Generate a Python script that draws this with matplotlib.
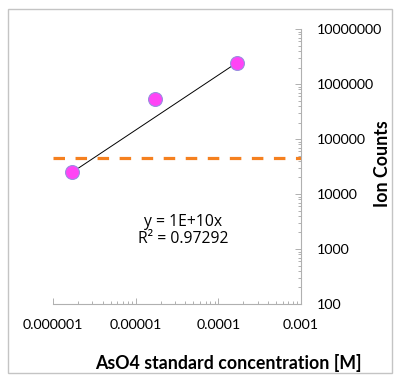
import numpy as np
import matplotlib
import matplotlib.pyplot as plt
from matplotlib import ticker
from matplotlib.patches import Rectangle

matplotlib.rcParams['font.family'] = ['Lato', 'DejaVu Sans']

# data
conc = [1.7e-6, 1.7e-5, 1.7e-4]          # AsO4 standard concentration [M]
counts = [25500, 545000, 2450000]        # ion counts
threshold = 45000                        # dashed orange line
x_ticks = [1e-6, 1e-5, 1e-4, 1e-3]
x_labels = ['0.000001', '0.00001', '0.0001', '0.001']
y_ticks = [1e2, 1e3, 1e4, 1e5, 1e6, 1e7]
y_labels = ['100', '1000', '10000', '100000', '1000000', '10000000']
eq_text = 'y = 1E+10x'
r2_text = 'R² = 0.97292'

fig = plt.figure(figsize=(4, 3.83), dpi=100)
ax = fig.add_axes([0.1325, 0.2063, 0.62, 0.7177])

# linear fit through the origin (Excel trendline)
x = np.array(conc)
y = np.array(counts)
k = (x * y).sum() / (x * x).sum()
ax.plot([x[0], x[-1]], [k * x[0], k * x[-1]], color='black', lw=0.7, zorder=3)

ax.axhline(threshold, color='#F5801F', lw=2.3, dashes=(3.6, 3.3), zorder=2)

ax.plot(conc, counts, ls='none', marker='o', markersize=10,
        markerfacecolor='#FF44F5', markeredgecolor='#9A8FE0', markeredgewidth=0.8, zorder=4)

ax.set_xscale('log')
ax.set_yscale('log')
ax.set_xlim(1e-6, 1e-3)
ax.set_ylim(1e2, 1e7)

ax.xaxis.set_major_locator(ticker.FixedLocator(x_ticks))
ax.xaxis.set_major_formatter(ticker.FixedFormatter(x_labels))
ax.yaxis.set_major_locator(ticker.FixedLocator(y_ticks))
ax.yaxis.set_major_formatter(ticker.FixedFormatter(y_labels))
ax.xaxis.set_minor_locator(ticker.LogLocator(base=10, subs=np.arange(2, 10)))
ax.yaxis.set_minor_locator(ticker.LogLocator(base=10, subs=np.arange(2, 10)))
ax.xaxis.set_minor_formatter(ticker.NullFormatter())
ax.yaxis.set_minor_formatter(ticker.NullFormatter())

ax.yaxis.tick_right()
for s in ['left', 'top']:
    ax.spines[s].set_visible(False)
for s in ['right', 'bottom']:
    ax.spines[s].set_color('#B0B0B0')
    ax.spines[s].set_linewidth(0.8)

ax.tick_params(which='both', direction='in', color='#B0B0B0', width=0.7, labelsize=10.3)
ax.tick_params(which='major', length=4)
ax.tick_params(which='minor', length=2.5)
ax.tick_params(axis='y', which='both', left=False, right=True, pad=11.5)
ax.tick_params(axis='x', which='both', pad=11)

eq_font = ['Open Sans', 'DejaVu Sans']
fig.text(0.4575, 0.42, eq_text, ha='center', va='center', fontsize=11.3, family=eq_font)
fig.text(0.4575, 0.376, r2_text, ha='center', va='center', fontsize=11.3, family=eq_font)

fig.text(0.57, 0.052, 'AsO4 standard concentration [M]', ha='center', va='center',
         fontsize=12.8, fontweight='bold')
fig.text(0.955, 0.574, 'Ion Counts', ha='center', va='center', rotation=90,
         fontsize=12.8, fontweight='bold')

fig.patches.append(Rectangle((0.02, 0.026), 0.96, 0.9505, transform=fig.transFigure,
                             fill=False, edgecolor='#C4C4C4', lw=1))

fig.savefig('out.png', dpi=100)
